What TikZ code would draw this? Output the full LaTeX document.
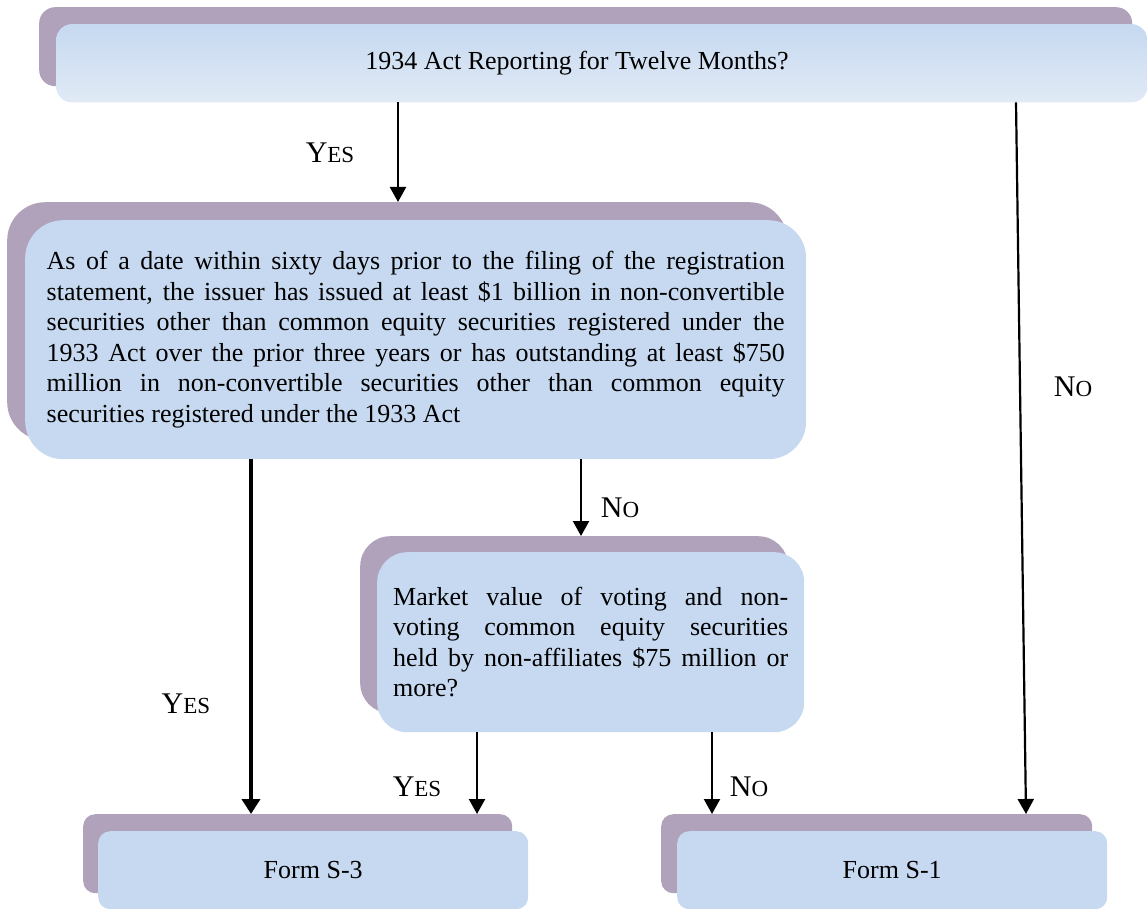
\documentclass[tikz,border=0pt]{standalone}
\usepackage{fontspec}
\setmainfont{Liberation Serif}
\usetikzlibrary{arrows.meta}
\definecolor{shadowc}{HTML}{B0A2BA}
\definecolor{boxc}{HTML}{C6D9F0}
\definecolor{boxlight}{HTML}{E1EAF6}
\newcommand{\ysc}{{\fontsize{30}{30}\selectfont Y\fontsize{23}{23}\selectfont ES}}
\newcommand{\nsc}{{\fontsize{30}{30}\selectfont N\fontsize{23}{23}\selectfont O}}
\begin{document}
\begin{tikzpicture}[x=1pt,y=-1pt,
  shadowbox/.style={fill=shadowc, draw=none, inner sep=0pt, anchor=north west},
  frontbox/.style={fill=boxc, draw=none, inner sep=0pt, anchor=north west},
  body/.style={font=\fontsize{26}{30.5}\selectfont},
  arr/.style={line width=2.2pt, -{Triangle[width=16pt,length=15pt]}},
  thickarr/.style={line width=4.5pt, -{Triangle[width=18pt,length=15pt]}},
  lbl/.style={inner sep=0pt}]
\useasboundingbox (0,0) rectangle (1147,909);

% top box
\node[shadowbox, rounded corners=16pt, minimum width=1093pt, minimum height=79pt] (topS) at (39,7) {};
\node[frontbox, rounded corners=16pt, minimum width=1091pt, minimum height=78pt,
      top color=boxc, bottom color=boxlight] (top) at (56,24) {};
\node[body, inner sep=0pt] (toptext) at (577,63) {1934 Act Reporting for Twelve Months?};

% middle box
\node[shadowbox, rounded corners=38pt, minimum width=780pt, minimum height=238pt] (midS) at (7,202) {};
\node[frontbox, rounded corners=38pt, minimum width=781pt, minimum height=239pt,
      body, text width=738pt, align=justify] (mid) at (25,220)
 {\tolerance=10000\hyphenpenalty=10000\exhyphenpenalty=10000
  As of a date within sixty days prior to the filing of the registration\linebreak
  statement, the issuer has issued at least \$1 billion in non-convertible\linebreak
  securities other than common equity securities registered under the\linebreak
  1933 Act over the prior three years or has outstanding at least \$750\linebreak
  million in non-convertible securities other than common equity\linebreak
  securities registered under the 1933 Act};

% lower middle box
\node[shadowbox, rounded corners=30pt, minimum width=428pt, minimum height=177pt] (lowS) at (360,536) {};
\node[frontbox, rounded corners=30pt, minimum width=427pt, minimum height=180pt,
      body, text width=395pt, align=justify] (low) at (377,552)
 {\tolerance=10000\hyphenpenalty=10000\exhyphenpenalty=10000
  Market value of voting and non-\linebreak
  voting common equity securities\linebreak
  held by non-affiliates \$75 million or\linebreak
  more?};

% Form S-3
\node[shadowbox, rounded corners=12pt, minimum width=429pt, minimum height=79pt] (s3S) at (83,814) {};
\node[frontbox, rounded corners=12pt, minimum width=430pt, minimum height=78pt, body] (s3) at (98,831) {Form S-3};

% Form S-1
\node[shadowbox, rounded corners=12pt, minimum width=431pt, minimum height=79pt] (s1S) at (661,814) {};
\node[frontbox, rounded corners=12pt, minimum width=430pt, minimum height=78pt, body] (s1) at (677,831) {Form S-1};

% arrow columns
\coordinate (c1) at (398,0);
\coordinate (c2) at (251,0);
\coordinate (c3) at (581,0);
\coordinate (c4) at (477,0);
\coordinate (c5) at (712,0);
\coordinate (r1) at (1016,0);
\coordinate (r2) at (1026,0);

\draw[arr] (c1 |- top.south) -- (c1 |- midS.north);
\draw[thickarr] (c2 |- mid.south) -- (c2 |- s3S.north);
\draw[arr] (c3 |- mid.south) -- (c3 |- lowS.north);
\draw[arr] (c4 |- low.south) -- (c4 |- s3S.north);
\draw[arr] (c5 |- low.south) -- (c5 |- s1S.north);
\draw[arr] (r1 |- top.south) -- (r2 |- s1S.north);

% labels
\node[lbl] (yes1) at (330,153) {\ysc};
\node[lbl] (yes2) at (186,704) {\ysc};
\node[lbl] (yes3) at (417,787) {\ysc};
\node[lbl] (no1) at (620,508) {\nsc};
\node[lbl] (no2) at (1073,387) {\nsc};
\node[lbl] (no3) at (749,787) {\nsc};
\end{tikzpicture}
\end{document}
